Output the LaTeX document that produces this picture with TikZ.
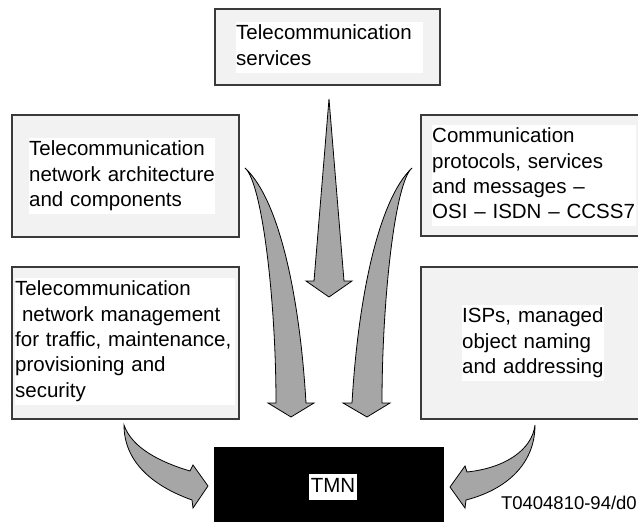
\documentclass[tikz,border=0pt]{standalone}
\usepackage{fontspec}
\setmainfont{Liberation Sans}
\definecolor{boxfill}{HTML}{F2F2F2}
\definecolor{boxline}{HTML}{3A3A3A}
\definecolor{arrfill}{HTML}{A6A6A6}
\begin{document}
\begin{tikzpicture}[x=1pt,y=-1pt,
  box/.style={draw=boxline, fill=boxfill, line width=1.6pt, anchor=north west, inner sep=0pt},
  txt/.style={fill=white, inner sep=0pt, align=left, anchor=north west,
    font=\fontsize{20.5}{25.3}\selectfont,
    execute at begin node=\strut, execute at end node=\strut},
  arr/.style={draw=black, fill=arrfill, line width=0.8pt, line join=miter}]
\clip (0,0) rectangle (638,522);
% boxes
\node[box, minimum width=225pt, minimum height=76pt] (top) at (214,8) {};
\node[box, minimum width=227pt, minimum height=122pt] (lm) at (11,114) {};
\node[box, minimum width=230pt, minimum height=121pt] (rm) at (420,114) {};
\node[box, minimum width=227pt, minimum height=152pt] (lb) at (11,266) {};
\node[box, minimum width=230pt, minimum height=152pt] (rb) at (420,266) {};
\node[draw=black, fill=black, anchor=north west, inner sep=0pt, minimum width=229pt, minimum height=90pt] (tmn) at (214,447) {};
% texts
\node[txt, text width=187pt] (ttop) at (236,22) {Telecommunication\\services};
\node[txt, text width=186pt] (tlm) at (29,138) {Telecommunication\\network architecture\\and components};
\node[txt, text width=204pt] (trm) at (432,125) {Communication\\protocols, services\\and messages --\\OSI -- ISDN -- CCSS7};
\node[txt, text width=220pt] (tlb) at (15,278) {Telecommunication\\\mbox{}\ network management\\for traffic, maintenance,\\provisioning and\\security};
\node[txt, text width=142pt] (trb) at (462,305) {ISPs, managed\\object naming\\and addressing};
\node[fill=white, inner xsep=2pt, inner ysep=0pt, font=\fontsize{20.5}{25.3}\selectfont] (ttmn) at (333,487) {\strut TMN};
\node[anchor=base east, inner sep=0pt, font=\fontsize{18.5}{22}\selectfont] (lbl) at (637,509) {T0404810-94/d0};
% arrows
\draw[arr] (329,99) -- (344,281) -- (352,281) -- (329,297) -- (306,281) -- (314,281) -- cycle;
\draw[arr] (245,168) .. controls (262,182) and (276,300) .. (276,403) -- (268,403) -- (291,417) -- (314,403) -- (306,403) .. controls (300,300) and (280,200) .. (245,168) -- cycle;
\draw[arr] (412,168) .. controls (395,182) and (382,300) .. (382,403) -- (390,403) -- (367,417) -- (343,403) -- (352,403) .. controls (358,300) and (378,200) .. (412,168) -- cycle;
\draw[arr] (124,425) .. controls (132,448) and (160,462) .. (190,471) -- (193,465) -- (208,486) -- (193,508) -- (192,500) .. controls (150,485) and (124,460) .. (124,425) -- cycle;
\draw[arr] (535,425) .. controls (532,450) and (505,468) .. (467,472) -- (465,466) -- (450,487) -- (465,508) -- (466,500) .. controls (505,490) and (535,465) .. (535,425) -- cycle;
\end{tikzpicture}
\end{document}
